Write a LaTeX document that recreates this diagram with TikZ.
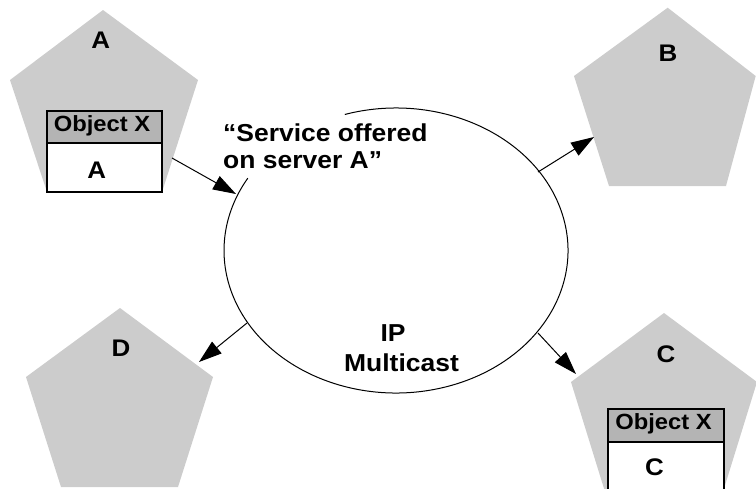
\documentclass[tikz,border=0pt]{standalone}
\usepackage{fontspec}
\setmainfont{Liberation Sans}[FakeStretch=1.08]
\usetikzlibrary{arrows.meta}
\definecolor{pentgray}{RGB}{204,204,204}
\definecolor{hdrgray}{RGB}{180,180,180}
\begin{document}
\begin{tikzpicture}[x=1pt,y=-1pt,
  pent/.style={fill=pentgray, draw=none},
  hdrbox/.style={fill=hdrgray, draw=black, line width=2pt},
  bodybox/.style={fill=white, draw=black, line width=2pt},
  lbl/.style={font=\bfseries\fontsize{24}{28}\selectfont, inner sep=0pt, anchor=base},
  boxlbl/.style={font=\bfseries\fontsize{22}{26}\selectfont, inner sep=0pt, anchor=base},
  bigtxt/.style={font=\bfseries\fontsize{24.5}{27}\selectfont, inner sep=0pt},
  conn/.style={line width=1pt, -{Triangle[length=23pt,width=15pt]}},
  ring/.style={line width=1pt}]
\useasboundingbox (0,0) rectangle (756,488);

% pentagons (servers)
\fill[pent] (103,10) -- (198,80) -- (162,192) -- (47,192) -- (10,80) -- cycle;
\fill[pent] (667.7,7.7) -- (755.7,76) -- (726,186) -- (609,186) -- (574,76) -- cycle;
\fill[pent] (120,308) -- (213,377) -- (178,487) -- (61,487) -- (26,377) -- cycle;
\fill[pent] (664,313) -- (757,382) -- (722,495) -- (606,495) -- (571,382) -- cycle;

% object boxes
\draw[bodybox] (47,143) rectangle (162,192);
\draw[hdrbox] (47,111) rectangle (162,143);
\draw[bodybox] (608,441.7) rectangle (723.7,523);
\draw[hdrbox] (608,409) rectangle (723.7,441.7);

% multicast ring
\coordinate (net) at (396,250.5);
\draw[ring] (net) ++(252.7:172 and 142.5) arc[start angle=252.7, end angle=570.5, x radius=172, y radius=142.5];

% connector end points
\coordinate (aOut) at (172,158);
\coordinate (netInA) at (236,194);
\coordinate (netOutB) at (538,172);
\coordinate (bIn) at (594,137);
\coordinate (netOutD) at (247,323);
\coordinate (dIn) at (199,362);
\coordinate (netOutC) at (538,333);
\coordinate (cIn) at (576,374);

\draw[conn] (aOut) -- (netInA);
\draw[conn] (netOutB) -- (bIn);
\draw[conn] (netOutD) -- (dIn);
\draw[conn] (netOutC) -- (cIn);

% labels
\node[lbl] (labA) at (100.7,48) {A};
\node[lbl] (labB) at (668,61) {B};
\node[lbl] (labC) at (666,362.7) {C};
\node[lbl] (labD) at (121,356) {D};
\node[boxlbl] (hdrA) at (102,131.7) {Object X};
\node[lbl] (valA) at (96.7,178) {A};
\node[boxlbl] (hdrC) at (663.5,429) {Object X};
\node[lbl] (valC) at (654.5,475) {C};
\node[bigtxt, align=left, anchor=base west] (svc) at (223,168) {“Service offered\\on server A”};
\node[bigtxt, align=center, anchor=base] (ip) at (401.5,371.7) {IP\hspace*{17pt}\\[3pt]Multicast};
\end{tikzpicture}
\end{document}
